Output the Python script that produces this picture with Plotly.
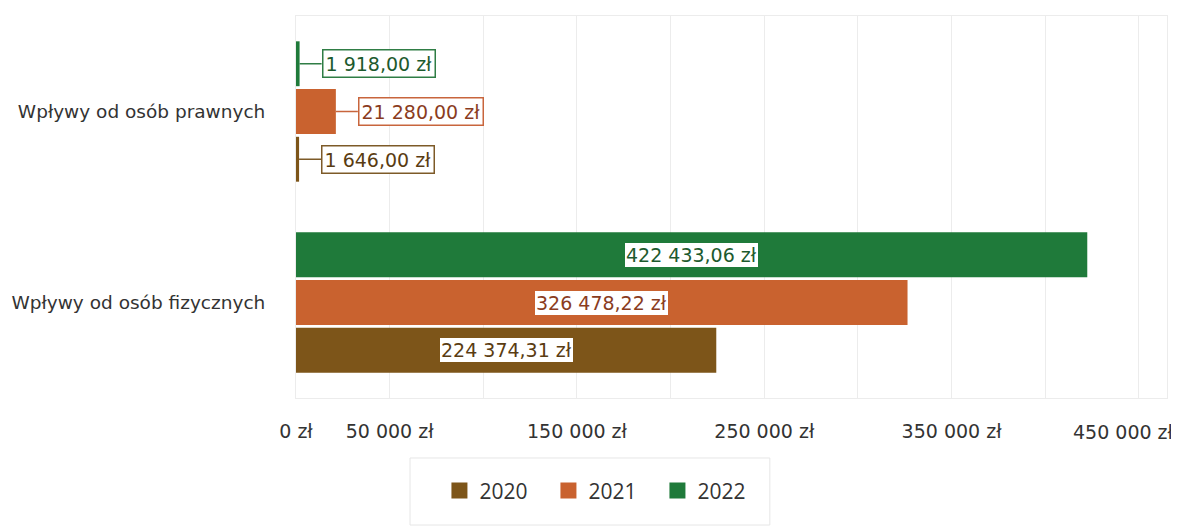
import plotly.graph_objects as go

categories = ["Wpływy od osób fizycznych", "Wpływy od osób prawnych"]
years = ["2020", "2021", "2022"]
values_2020 = [224374.31, 1646.00]
values_2021 = [326478.22, 21280.00]
values_2022 = [422433.06, 1918.00]
label_2020 = ["224 374,31 zł", "1 646,00 zł"]
label_2021 = ["326 478,22 zł", "21 280,00 zł"]
label_2022 = ["422 433,06 zł", "1 918,00 zł"]
tick_values = [0, 50000, 100000, 150000, 200000, 250000, 300000, 350000, 400000, 450000]
tick_labels = ["0 zł", "50 000 zł", "", "150 000 zł", "", "250 000 zł", "", "350 000 zł", "", "450 000 zł"]

series_values = [values_2020, values_2021, values_2022]
series_labels = [label_2020, label_2021, label_2022]
bar_colors = ["#7d5519", "#c9622f", "#1f7a3a"]
text_colors = ["#5a3c12", "#8a3c1e", "#1d5a2e"]
border_colors = ["#7d5a28", "#c8653c", "#2f7d45"]

FONT = "DejaVu Sans"
bargap = 0.25
n = len(years)

fig = go.Figure()
for i, yr in enumerate(years):
    fig.add_trace(go.Bar(
        y=categories, x=series_values[i], name=yr, orientation="h",
        marker=dict(color=bar_colors[i], line=dict(width=0)),
        hoverinfo="skip", showlegend=False, legendgroup=yr,
    ))
for i, yr in enumerate(years):
    fig.add_trace(go.Scatter(
        x=[None], y=[None], mode="markers", name=yr, legendgroup=yr,
        marker=dict(symbol="square", size=16, color=bar_colors[i]),
        hoverinfo="skip", showlegend=True,
    ))

slot = (1 - bargap) / n
annotations = []
for i in range(n):
    offset = (i - (n - 1) / 2) * slot
    for ci, cat in enumerate(categories):
        v = series_values[i][ci]
        ypos = ci + offset
        if v > 100000:
            annotations.append(dict(
                x=v / 2, y=ypos, xref="x", yref="y", text=series_labels[i][ci],
                showarrow=False, bgcolor="white", bordercolor=bar_colors[i],
                borderwidth=1, borderpad=1,
                font=dict(family=FONT, size=19, color=text_colors[i]),
            ))
        else:
            annotations.append(dict(
                x=v, y=ypos, xref="x", yref="y", text=series_labels[i][ci],
                showarrow=True, arrowhead=0, arrowwidth=1.5, arrowcolor=border_colors[i],
                ax=22, ay=0, xanchor="left", bgcolor="white",
                bordercolor=border_colors[i], borderwidth=1.5, borderpad=2,
                font=dict(family=FONT, size=19, color=text_colors[i]),
            ))

# last tick label drawn shifted left so it stays inside the page
axis_ticktext = tick_labels[:-1] + [""]
annotations.append(dict(
    x=tick_values[-1], y=0, xref="x", yref="paper", text=tick_labels[-1],
    showarrow=False, xanchor="center", yanchor="middle", xshift=-15, yshift=-34,
    font=dict(family=FONT, size=19, color="#333333"),
))

fig.update_layout(
    width=1171, height=519,
    margin=dict(l=288, r=12, t=8, b=129, autoexpand=False),
    paper_bgcolor="white", plot_bgcolor="white",
    barmode="group", bargap=bargap, bargroupgap=0.06,
    font=dict(family=FONT, size=18, color="#333333"),
    showlegend=True,
    legend=dict(
        orientation="h", x=0.3524, xanchor="center", y=-0.243, yanchor="middle",
        borderwidth=0, entrywidth=64, entrywidthmode="pixels",
        font=dict(family="Open Sans", size=21, color="#333333"),
        traceorder="normal", itemsizing="trace",
    ),
    shapes=[dict(
        type="rect", xref="paper", yref="paper",
        x0=0.1309, x1=0.544, y0=-0.3325, y1=-0.157,
        line=dict(color="#e6e6e6", width=1), fillcolor="rgba(0,0,0,0)",
    )],
    annotations=annotations,
    xaxis=dict(
        range=[0, 465000], tickvals=tick_values, ticktext=axis_ticktext,
        showgrid=True, gridcolor="#ececec", gridwidth=1, zeroline=False,
        ticks="outside", ticklen=16, tickcolor="rgba(0,0,0,0)",
        tickfont=dict(family=FONT, size=19, color="#333333"),
        showline=True, linecolor="#ececec", mirror=True, automargin=False,
    ),
    yaxis=dict(
        type="category", categoryorder="array", categoryarray=categories,
        range=[-0.5, 1.5], showgrid=False, zeroline=False,
        ticks="outside", ticklen=26, tickcolor="rgba(0,0,0,0)",
        tickfont=dict(family=FONT, size=18.5, color="#333333"),
        showline=True, linecolor="#ececec", mirror=True, automargin=False,
    ),
)

fig.write_html("out.html")
